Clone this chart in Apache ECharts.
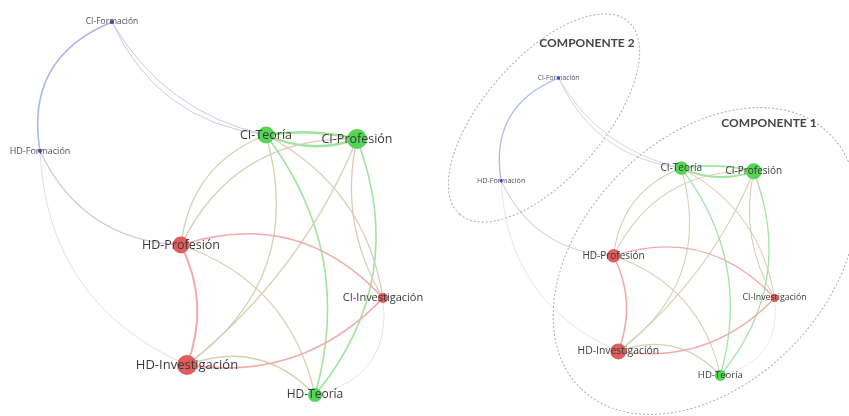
<!DOCTYPE html>
<html><head><meta charset="utf-8">
<script src="https://cdn.jsdelivr.net/npm/echarts@6/dist/echarts.min.js"></script>
<style>html,body{margin:0;padding:0;background:#fff}#c{width:849px;height:416px}</style>
</head><body><div id="c"></div>
<script>
// Nodes (layout coordinates of the network)
const nodeNames = ['CI-Formación','HD-Formación','CI-Teoría','CI-Profesión','HD-Profesión','CI-Investigación','HD-Investigación','HD-Teoría'];
const nodeX = [112, 40, 266, 357, 181, 383, 187, 315];
const nodeY = [22, 151, 135, 139, 245, 298, 365, 395];
const nodeWeight = [4, 4, 17, 20, 17, 10, 20, 14];
const nodeClass = ['blue','blue','green','green','red','red','red','green'];
const labelWeight = [8.5, 9, 12.5, 12.5, 12.5, 11, 13, 12];

// Edges
const linkSource = ['CI-Formación','HD-Formación','HD-Formación','CI-Formación','CI-Teoría','CI-Teoría','CI-Profesión',
  'HD-Profesión','HD-Profesión','CI-Teoría','HD-Investigación','CI-Teoría','CI-Profesión','CI-Teoría','CI-Profesión',
  'HD-Profesión','HD-Investigación','HD-Profesión','HD-Profesión','HD-Investigación','CI-Investigación'];
const linkTarget = ['HD-Formación','HD-Profesión','HD-Investigación','CI-Teoría','CI-Formación','CI-Profesión','CI-Teoría',
  'CI-Teoría','CI-Profesión','HD-Investigación','CI-Profesión','HD-Teoría','HD-Teoría','CI-Investigación','CI-Investigación',
  'HD-Teoría','HD-Teoría','HD-Investigación','CI-Investigación','CI-Investigación','HD-Teoría'];
const linkWeight = [1.6, 1.3, 1, 1, 1, 2.4, 2.4, 1.3, 1.3, 1.3, 1.3, 1.6, 1.6, 1.3, 1.3, 1.3, 1.5, 2, 1.6, 1.8, 1];
const linkKind = ['blue','bluegray','gray','bluegray','bluegray','green','green','tan','tan','greentan','tan','green','green','tan','tan',
  'tan','greentan','red','red','red','pale'];
const linkCurve = [-0.4, -0.3, -0.31, -0.28, 0.22, 0.1, 0.2, 0.3, 0.32, 0.35, -0.13, 0.25, 0.29, 0.25, -0.2,
  0.28, 0.33, 0.22, 0.32, -0.26, 0.45];

const componentLabels = ['COMPONENTE 2', 'COMPONENTE 1'];

const nodeColor = {blue:'#3a46c8', green:'#55d555', red:'#df5d5d'};
const edgeColor = {blue:'#aab6f0', bluegray:'#c8cbe0', gray:'#dedfe8', green:'#9fe49f', tan:'#d8ccb6', greentan:'#cfd3b0', red:'#f3aaaa', pale:'#e9e3e3'};

function buildSeries(gridIdx, scale) {
  const data = nodeNames.map((n, i) => ({
    name: n,
    value: [nodeX[i], nodeY[i]],
    symbolSize: nodeWeight[i] * scale,
    itemStyle: {color: nodeColor[nodeClass[i]]},
    label: {show: true, position: 'inside', fontSize: labelWeight[i] * scale,
      color: nodeClass[i] === 'blue' ? '#50505c' : '#3a3a3a', fontFamily: 'Open Sans'}
  }));
  const links = linkSource.map((s, i) => ({
    source: s, target: linkTarget[i],
    lineStyle: {color: edgeColor[linkKind[i]], width: linkWeight[i] * scale, curveness: linkCurve[i], opacity: 1}
  }));
  return {
    type: 'graph', coordinateSystem: 'cartesian2d', xAxisIndex: gridIdx, yAxisIndex: gridIdx,
    data: data, links: links, symbol: 'circle', silent: true, emphasis: {disabled: true}, z: 2
  };
}

const S = 0.797;
const chart = echarts.init(document.getElementById('c'));
chart.setOption({
  animation: false,
  grid: [
    {left: 0, top: 0, width: 430, height: 416},
    {left: 469.3, top: 60.5, width: 430 * S, height: 416 * S}
  ],
  xAxis: [
    {gridIndex: 0, type: 'value', min: 0, max: 430, show: false},
    {gridIndex: 1, type: 'value', min: 0, max: 430, show: false}
  ],
  yAxis: [
    {gridIndex: 0, type: 'value', min: 0, max: 416, inverse: true, show: false},
    {gridIndex: 1, type: 'value', min: 0, max: 416, inverse: true, show: false}
  ],
  graphic: [
    {type: 'ellipse', x: 544, y: 118, rotation: 0.852, shape: {cx: 0, cy: 0, rx: 128, ry: 60},
      style: {fill: 'none', stroke: '#acacac', lineWidth: 1, lineDash: [2, 2]}, z: 10},
    {type: 'ellipse', x: 705, y: 261, rotation: 0.80, shape: {cx: 0, cy: 0, rx: 178, ry: 122},
      style: {fill: 'none', stroke: '#acacac', lineWidth: 1, lineDash: [2, 2]}, z: 10},
    {type: 'text', x: 587, y: 43, style: {text: componentLabels[0], fill: '#444', font: 'bold 12px Lato', textAlign: 'center', textVerticalAlign: 'middle'}, z: 10},
    {type: 'text', x: 769, y: 123, style: {text: componentLabels[1], fill: '#444', font: 'bold 12px Lato', textAlign: 'center', textVerticalAlign: 'middle'}, z: 10}
  ],
  series: [buildSeries(0, 1), buildSeries(1, S)]
});
</script>
</body></html>
